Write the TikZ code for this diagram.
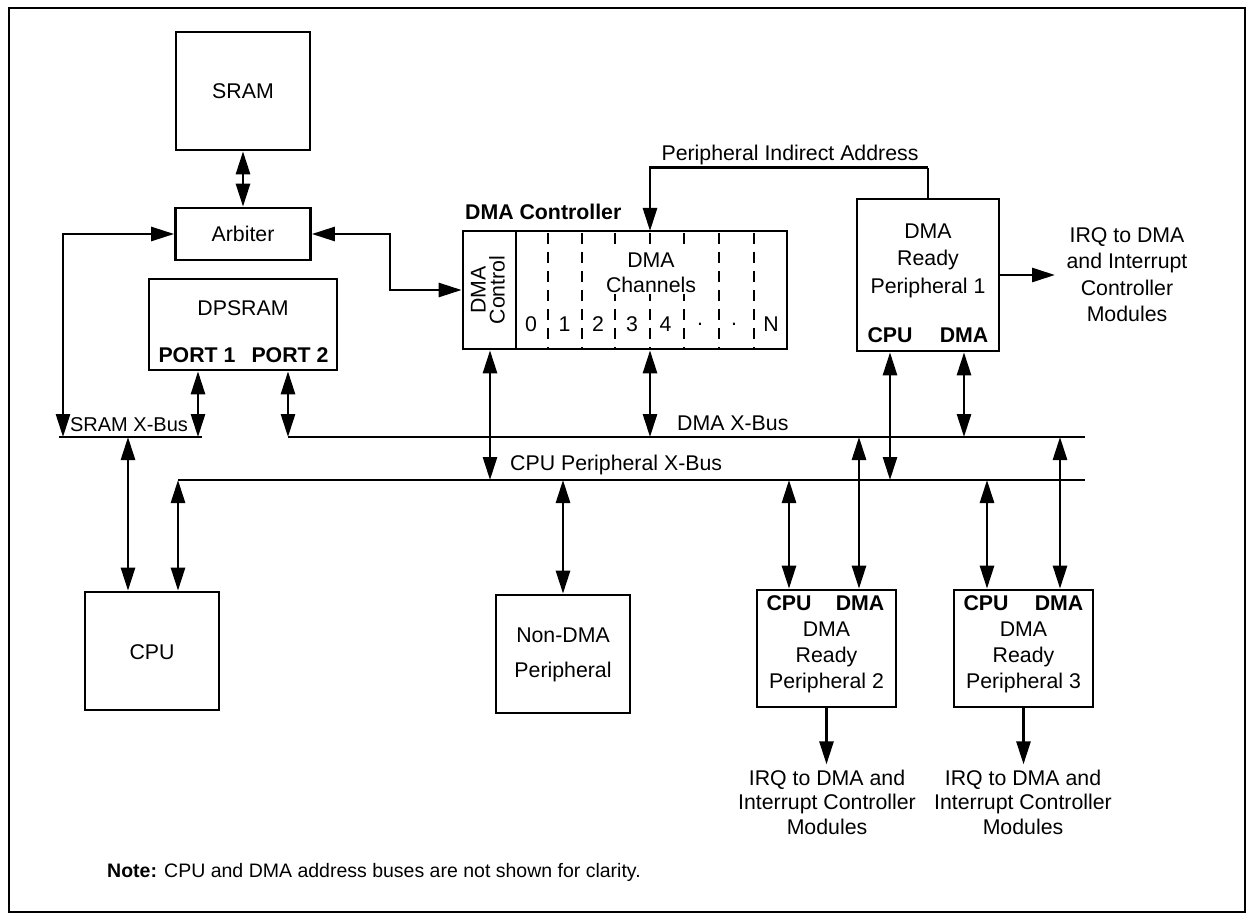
\documentclass[tikz,border=0pt]{standalone}
\usepackage{fontspec}
\setmainfont{Liberation Sans}
\usetikzlibrary{arrows.meta}
\begin{document}
\begin{tikzpicture}[x=1pt,y=-1pt,
  lw/.style={line width=2.7pt},
  box/.style={draw,lw,inner sep=0pt},
  txt/.style={inner sep=0pt,align=center,font=\fontsize{21.3}{26.5}\selectfont},
  btxt/.style={inner sep=0pt,align=center,font=\fontsize{21.3}{26.5}\selectfont\bfseries},
  bus/.style={lw},
  ar/.style={lw,-{Triangle[length=23pt,width=14pt]}},
  bi/.style={lw,{Triangle[length=23pt,width=14pt]}-{Triangle[length=23pt,width=14pt]}},
  chdash/.style={line width=2.2pt,dash pattern=on 11pt off 8pt,dash phase=-2pt},
]
\useasboundingbox (0,0) rectangle (1254,920);
\draw[line width=2.2pt] (9,8) rectangle (1245,912);

% boxes
\node[box,minimum width=134pt,minimum height=118pt] (sram) at (243,91) {};
\node[txt] at (243,91) {SRAM};
\node[box,minimum width=135pt,minimum height=52pt] (arb) at (243,234) {};
\node[txt] at (243,234) {Arbiter};
\node[box,minimum width=188pt,minimum height=91pt] (dpsram) at (243,324.5) {};
\node[txt] at (243,308) {DPSRAM};
\node[btxt] at (197,355) {PORT 1};
\node[btxt] at (290,355) {PORT 2};

% DMA controller
\node[box,minimum width=324pt,minimum height=118pt] (dmac) at (625,290) {};
\node[btxt,anchor=west] at (465,212) {DMA Controller};
\draw[lw] (516,231) -- (516,349);
\foreach \x in {548,582,615,650,684,719,754} \draw[chdash] (\x,231) -- (\x,349);
\node[txt,rotate=90,font=\fontsize{21.3}{19}\selectfont] at (488,290) {DMA\\Control};
\node[txt,fill=white,inner sep=1pt,font=\fontsize{21.3}{25}\selectfont] at (651,273) {DMA\\Channels};
\foreach \x/\t in {531/0,564.5/1,598/2,632/3,665.5/4,700/.,734/.,771/N}
  \node[txt] at (\x,324) {\t};

% Peripheral 1
\node[box,minimum width=142pt,minimum height=152pt] (p1) at (928,275) {};
\node[txt,font=\fontsize{21.3}{27.5}\selectfont] at (928,260.5) {DMA\\Ready\\Peripheral 1};
\node[btxt] at (890,335) {CPU};
\node[btxt] at (964,335) {DMA};
\node[txt,font=\fontsize{21.3}{26.5}\selectfont] (irq1) at (1127,274.5) {IRQ to DMA\\and Interrupt\\Controller\\Modules};
\coordinate (irq1a) at (1055,275);

% Peripheral 2 and 3
\node[box,minimum width=139pt,minimum height=117pt] (p2) at (826.5,648.5) {};
\node[btxt] at (789,603) {CPU};
\node[btxt] at (860,603) {DMA};
\node[txt,font=\fontsize{21.3}{26}\selectfont] at (826.5,657) {DMA\\Ready\\Peripheral 2};
\node[box,minimum width=139pt,minimum height=117pt] (p3) at (1023.5,648.5) {};
\node[btxt] at (986,603) {CPU};
\node[btxt] at (1059,603) {DMA};
\node[txt,font=\fontsize{21.3}{26}\selectfont] at (1023.5,657) {DMA\\Ready\\Peripheral 3};
\node[txt,font=\fontsize{21.3}{24.5}\selectfont] (irq2) at (827,802) {IRQ to DMA and\\Interrupt Controller\\Modules};
\node[txt,font=\fontsize{21.3}{24.5}\selectfont] (irq3) at (1023,802) {IRQ to DMA and\\Interrupt Controller\\Modules};

% CPU and Non-DMA
\node[box,minimum width=134pt,minimum height=118pt] (cpu) at (152,651) {};
\node[txt] at (152,652) {CPU};
\node[box,minimum width=134pt,minimum height=118pt] (ndma) at (563,654) {};
\node[txt,font=\fontsize{21.3}{35}\selectfont] at (563,654.5) {Non-DMA\\Peripheral};

% buses
\coordinate (sxbW) at (59,437);  \coordinate (sxbE) at (202,437);
\coordinate (dxbW) at (288,437); \coordinate (dxbE) at (1085,437);
\coordinate (cxbW) at (178,480); \coordinate (cxbE) at (1085,480);
\draw[bus] (sxbW) -- (sxbE);
\draw[bus] (dxbW) -- (dxbE);
\draw[bus] (cxbW) -- (cxbE);
\node[txt,font=\fontsize{20}{24}\selectfont] at (129,425) {SRAM X-Bus};
\node[txt,anchor=west] at (677,423) {DMA X-Bus};
\node[txt,anchor=west] at (510,465) {CPU Peripheral X-Bus};

% bus taps
\coordinate (tSarb) at (63,437);
\coordinate (tPort1) at (198,437);
\coordinate (tPort2) at (288,437);
\coordinate (tDmacC) at (490,480);
\coordinate (tDmacD) at (650,437);
\coordinate (tP1C) at (890,480);
\coordinate (tP1D) at (964,437);
\coordinate (tP2C) at (789,480);
\coordinate (tP2D) at (859,437);
\coordinate (tP3C) at (987,480);
\coordinate (tP3D) at (1060,437);
\coordinate (tCpuS) at (128,437);
\coordinate (tCpuC) at (178,480);
\coordinate (tNdma) at (563,480);
\coordinate (ch4top) at (650,231);

% connectors
\draw[bi] (sram.south) -- (arb.north);
\draw[bi] (arb.west) -| (tSarb);
\draw[bi] (arb.east) -- ++(78,0) |- (dmac.west);
\draw[bi] (dpsram.south -| tPort1) -- (tPort1);
\draw[bi] (dpsram.south -| tPort2) -- (tPort2);
\draw[bi] (dmac.south -| tDmacC) -- (tDmacC);
\draw[bi] (dmac.south -| tDmacD) -- (tDmacD);
\draw[lw] (p1.north) -- ++(0,-30) coordinate (piaR);
\draw[ar] (piaR) -| (ch4top);
\node[txt] at (790,155) {Peripheral Indirect Address};
\draw[ar] (p1.east) -- (irq1a);
\draw[bi] (p1.south -| tP1C) -- (tP1C);
\draw[bi] (p1.south -| tP1D) -- (tP1D);
\draw[bi] (tP2C) -- (p2.north -| tP2C);
\draw[bi] (tP2D) -- (p2.north -| tP2D);
\draw[bi] (tP3C) -- (p3.north -| tP3C);
\draw[bi] (tP3D) -- (p3.north -| tP3D);
\draw[ar] (p2.south) -- ++(0,56);
\draw[ar] (p3.south) -- ++(0,56);
\draw[bi] (tCpuS) -- (cpu.north -| tCpuS);
\draw[bi] (tCpuC) -- (cpu.north -| tCpuC);
\draw[bi] (tNdma) -- (ndma.north);

% note
\node[inner sep=0pt,anchor=west,font=\fontsize{19.5}{24}\selectfont] at (107,872) {\textbf{Note:} CPU and DMA address buses are not shown for clarity.};
\end{tikzpicture}
\end{document}
